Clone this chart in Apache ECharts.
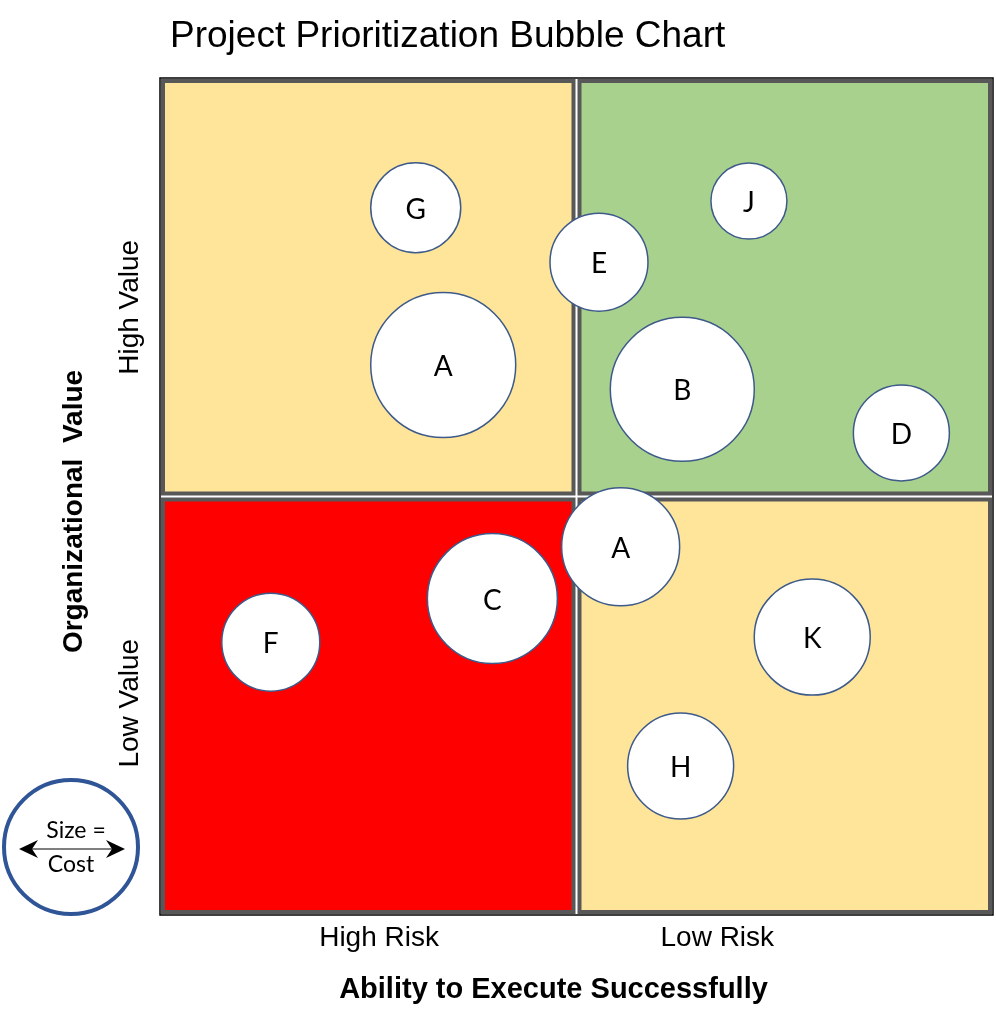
<!DOCTYPE html>
<html>
<head>
<meta charset="utf-8">
<script src="https://cdn.jsdelivr.net/npm/echarts@6/dist/echarts.min.js"></script>
<style>html,body{margin:0;padding:0;background:#fff}#c{width:996px;height:1024px}</style>
</head>
<body>
<div id="c"></div>
<script>
// ---- data ----
var projects = ['G','A','E','J','B','D','A','C','F','K','H'];
var execution = [3.07,3.40,5.27,7.07,6.27,8.90,5.53,3.99,1.33,7.83,6.25];
var orgValue  = [8.45,6.57,7.80,8.53,6.28,5.76,4.40,3.78,3.26,3.32,1.78];
var cost      = [90,145,98,76,144,96,118,130,98,116,106];
// quadrants: x range, y range, colour
var quadrantX = [[0,5],[5,10],[0,5],[5,10]];
var quadrantY = [[5,10],[5,10],[0,5],[0,5]];
var quadrantColors = ['#FFE599','#A9D18E','#FF0000','#FFE599'];
var xTickValues = [2.63, 6.69];
var xTickLabels = ['High Risk','Low Risk'];
var yTickValues = [2.53, 7.26];
var yTickLabels = ['Low Value','High Value'];

var quadData = quadrantX.map(function(qx,i){ return [qx[0], quadrantY[i][0], qx[1], quadrantY[i][1], i]; });
var bubbleData = projects.map(function(p,i){ return {name:p, value:[execution[i], orgValue[i], cost[i]]}; });

var chart = echarts.init(document.getElementById('c'), null, {renderer:'canvas'});
var option = {
  backgroundColor:'#ffffff',
  animation:false,
  title:{
    text:'Project Prioritization Bubble Chart',
    left:165, top:13,
    textStyle:{fontFamily:'Liberation Sans', fontSize:37, fontWeight:'normal', color:'#000'}
  },
  grid:{left:160, right:3, top:78, bottom:109, show:true, borderColor:'#000', borderWidth:1.5, backgroundColor:'transparent'},
  xAxis:{
    type:'value', min:0, max:10,
    splitLine:{show:false}, axisTick:{show:false},
    axisLine:{show:false},
    axisLabel:{
      customValues: xTickValues,
      formatter:function(v){ var i = xTickValues.indexOf(v); return i>=0 ? xTickLabels[i] : ''; },
      fontFamily:'Liberation Sans', fontSize:28, color:'#000', margin:9
    },
    name:'Ability to Execute Successfully', nameLocation:'middle', nameGap:60,
    nameTextStyle:{fontFamily:'Liberation Sans', fontSize:29, fontWeight:'bold', color:'#000', padding:[0,46,0,0]}
  },
  yAxis:{
    type:'value', min:0, max:10,
    splitLine:{show:false}, axisTick:{show:false},
    axisLine:{show:false},
    axisLabel:{
      customValues: yTickValues,
      formatter:function(v){ var i = yTickValues.indexOf(v); return i>=0 ? yTickLabels[i] : ''; },
      rotate:90, fontFamily:'Liberation Sans', fontSize:28, color:'#000', margin:16
    },
    name:'Organizational  Value', nameLocation:'middle', nameGap:72,
    nameTextStyle:{fontFamily:'Liberation Sans', fontSize:28, fontWeight:'bold', color:'#000', padding:[0,30,0,0]}
  },
  series:[
    {
      type:'custom',
      silent:true,
      z:1,
      data:quadData,
      renderItem:function(params, api){
        var p1 = api.coord([api.value(0), api.value(3)]);
        var p2 = api.coord([api.value(2), api.value(1)]);
        var inset = 3;
        return {
          type:'rect',
          shape:{x:p1[0]+inset, y:p1[1]+inset, width:p2[0]-p1[0]-2*inset, height:p2[1]-p1[1]-2*inset},
          style:{fill:quadrantColors[api.value(4)], stroke:'#585858', lineWidth:4}
        };
      }
    },
    {
      type:'scatter',
      z:5,
      data:bubbleData,
      symbol:'circle',
      symbolSize:function(v){ return v[2]; },
      itemStyle:{color:'#ffffff', borderColor:'#3D5A8A', borderWidth:1.5, opacity:1},
      label:{show:true, position:'inside', formatter:'{b}', fontFamily:'Lato', fontSize:28, color:'#000', offset:[0,2]}
    }
  ],
  graphic:[
    {type:'circle', shape:{cx:71, cy:847, r:67}, style:{fill:'#fff', stroke:'#2F5597', lineWidth:4}, z:10},
    {type:'line', shape:{x1:28, y1:849, x2:116, y2:849}, style:{stroke:'#000', lineWidth:1.2}, z:11},
    {type:'polygon', shape:{points:[[19,849],[38,840],[32,849],[38,858]]}, style:{fill:'#000'}, z:11},
    {type:'polygon', shape:{points:[[125,849],[106,840],[112,849],[106,858]]}, style:{fill:'#000'}, z:11},
    {type:'text', style:{text:'Size =', x:76, y:831, align:'center', verticalAlign:'middle', font:'23px Lato', fill:'#000'}, z:11},
    {type:'text', style:{text:'Cost', x:71, y:865, align:'center', verticalAlign:'middle', font:'23px Lato', fill:'#000'}, z:11}
  ]
};
chart.setOption(option);
</script>
</body>
</html>
